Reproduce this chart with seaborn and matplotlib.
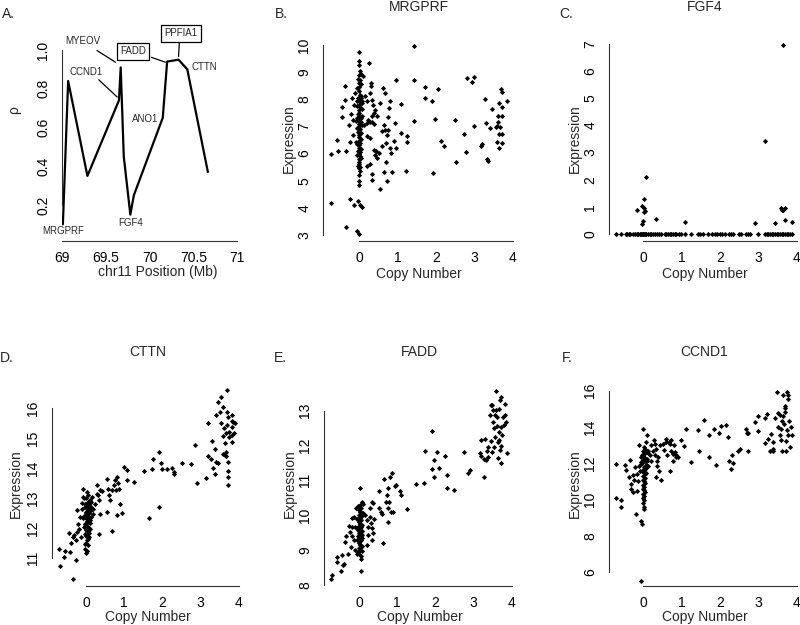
import matplotlib
matplotlib.use("Agg")
import matplotlib.pyplot as plt
import seaborn as sns
import pandas as pd

# ==========================
# Data
# ==========================

# Panel A: correlation (rho) along chr11 amplicon
pos_mb = [69.01, 69.07, 69.29, 69.65, 69.67, 69.705, 69.78, 69.82,
          70.15, 70.20, 70.33, 70.43, 70.665]
rho = [0.10, 0.84, 0.35, 0.74, 0.91, 0.45, 0.15, 0.25,
       0.65, 0.94, 0.95, 0.90, 0.37]
gene_names = ["MRGPRF", "CCND1", "MYEOV", "FGF4", "ANO1", "FADD", "PPFIA1", "CTTN"]

# Panel B: MRGPRF
cn_b = [
    -0.72, -0.72, -0.58, -0.55, -0.43, -0.43, -0.36, -0.36, -0.34, -0.34,
    -0.26, -0.23, -0.23, -0.21, -0.19, -0.16, -0.15, -0.12, -0.12, -0.10,
    -0.09, -0.06, -0.03, 0.00, 0.03, 0.09,
    0.00, 0.01, -0.01, 0.02, 0.00, -0.02, 0.03, 0.01, 0.00, -0.01,
    0.02, 0.04, -0.02, 0.01, 0.00, 0.03, -0.01, 0.02, 0.00, 0.01,
    -0.03, 0.02, 0.00, 0.04, 0.01, -0.01, 0.03, 0.00, 0.02, -0.02,
    0.01, 0.00, 0.03, -0.01, 0.02, 0.00, 0.01, -0.02, 0.03, 0.00,
    0.02, -0.01, 0.01, 0.00, 0.02, -0.01, 0.03, 0.00, 0.01, 0.00,
    0.06, -0.05, 0.08, -0.04, 0.07, -0.06, 0.05, 0.09, -0.05, 0.06,
    -0.04, 0.05, 0.06, -0.03, 0.05, -0.04, 0.07, -0.07, 0.05, -0.05,
    0.05, 0.11, 0.27, 0.30, 0.30, 0.28, 0.16, 0.09, 0.20, 0.33,
    0.37, 0.41, 0.39, 0.33, 0.46, 0.24, 0.28, 0.20, 0.35, 0.39,
    0.14, 0.20, 0.28, 0.39, 0.44, 0.47, 0.53, 0.41, 0.28, 0.20,
    0.33, 0.35, 0.54, 0.63, 0.67, 0.54, 0.65, 0.61, 0.67, 0.76,
    0.72, 0.59, 0.70, 0.80, 0.78, 0.76, 0.82, 0.80, 0.93, 0.91,
    0.97, 1.10, 1.09, 0.97, 0.70, 0.66, 0.72, 0.87, 1.25, 1.26,
    1.23, 1.43, 1.43, 1.42, 1.71, 1.72, 1.89, 1.97, 1.92, 2.05,
    2.14, 2.20, 2.50, 2.53, 2.74, 2.79, 2.82, 2.93, 3.00, 2.98,
    3.17, 3.20, 3.28, 3.30, 3.33, 3.36, 3.41, 3.47, 3.56, 3.58,
    3.62, 3.62, 3.60, 3.65, 3.65, 3.65, 3.69, 3.71, 3.72, 3.72,
    3.67, 3.71, 3.71, 3.84,
]
ex_b = [
    5.98, 4.18, 6.48, 6.08, 7.71, 7.33, 8.47, 7.98, 6.09, 3.28,
    7.06, 6.41, 4.33, 7.45, 8.04, 6.69, 7.24, 7.79, 4.12, 8.22,
    6.41, 3.14, 4.24, 3.05, 4.12, 4.04,
    9.75, 9.40, 9.25, 9.05, 8.90, 8.75, 8.70, 8.60, 8.45, 8.30,
    8.15, 8.10, 8.05, 8.00, 7.95, 7.90, 7.80, 7.70, 7.60, 7.50,
    7.45, 7.40, 7.35, 7.30, 7.20, 7.10, 7.05, 7.00, 6.90, 6.80,
    6.70, 6.60, 6.50, 6.45, 6.40, 6.30, 6.20, 6.10, 6.05, 6.00,
    5.90, 5.80, 5.70, 5.60, 5.50, 5.45, 5.35, 5.20, 5.00, 4.85,
    8.05, 7.95, 7.85, 7.75, 7.40, 7.30, 7.15, 7.05, 6.95, 6.55,
    6.35, 6.15, 5.85, 5.55, 8.55, 8.40, 7.65, 7.20, 6.75, 5.95,
    8.92, 8.87, 9.33, 8.59, 8.47, 8.22, 8.10, 7.92, 7.92, 7.98,
    7.79, 7.61, 7.49, 7.37, 7.37, 7.24, 7.16, 7.12, 7.16, 7.08,
    7.06, 6.63, 6.57, 6.14, 6.08, 5.83, 6.02, 5.96, 5.61, 5.55,
    5.24, 5.04, 4.69, 8.41, 8.22, 7.86, 7.06, 6.84, 6.87, 6.87,
    6.69, 6.27, 6.38, 6.20, 7.67, 7.33, 6.02, 7.92, 7.12, 6.45,
    6.20, 6.75, 7.83, 8.71, 5.67, 5.31, 4.98, 5.31, 6.63, 6.42,
    5.37, 9.96, 8.71, 7.21, 8.44, 8.04, 7.94, 7.28, 5.28, 8.38,
    6.45, 6.29, 7.22, 5.67, 6.73, 6.05, 8.78, 8.63, 8.80, 7.02,
    6.29, 6.35, 8.01, 7.12, 5.81, 5.74, 6.94, 7.65, 6.99, 6.42,
    7.16, 7.37, 7.02, 7.85, 6.72, 6.20, 8.37, 8.26, 7.70, 7.39,
    6.96, 6.72, 6.38, 7.92,
]

# Panel C: FGF4
cn_c = [
    -0.70, -0.57, -0.45, -0.42, -0.37, -0.33, -0.26, -0.22, -0.16, -0.13,
    -0.09, -0.06, -0.03, 0.00, 0.03, 0.05, 0.09, 0.13, 0.17, 0.22,
    0.26, 0.30, 0.37, 0.42, 0.48, 0.57, 0.61, 0.65, 0.70, 0.74,
    0.78, 0.83, 0.87, 0.93, 1.00, 1.09, 1.24, 1.42, 1.48, 1.57,
    1.70, 1.80, 1.87, 1.93, 2.00, 2.06, 2.13, 2.23, 2.29, 2.33,
    2.50, 2.55, 2.68, 2.74, 2.78, 2.98, 3.17, 3.22, 3.26, 3.30,
    3.35, 3.39, 3.43, 3.48, 3.52, 3.57, 3.61, 3.65, 3.70, 3.74,
    3.78, 3.83, 3.87,
    -0.16, -0.02, -0.02, 0.00, 0.02, 0.02, 0.04, 0.02, 0.07, 0.33,
    1.09, 2.91, 3.17, 3.43, 3.58, 3.63, 3.63, 3.70, 3.68, 3.87,
    3.61,
]
ex_c = [
    0.00, 0.00, 0.00, 0.00, 0.00, 0.00, 0.00, 0.00, 0.00, 0.00,
    0.00, 0.00, 0.00, 0.00, 0.00, 0.00, 0.00, 0.00, 0.00, 0.00,
    0.00, 0.00, 0.00, 0.00, 0.00, 0.00, 0.00, 0.00, 0.00, 0.00,
    0.00, 0.00, 0.00, 0.00, 0.00, 0.00, 0.00, 0.00, 0.00, 0.00,
    0.00, 0.00, 0.00, 0.00, 0.00, 0.00, 0.00, 0.00, 0.00, 0.00,
    0.00, 0.00, 0.00, 0.00, 0.00, 0.00, 0.00, 0.00, 0.00, 0.00,
    0.00, 0.00, 0.00, 0.00, 0.00, 0.00, 0.00, 0.00, 0.00, 0.00,
    0.00, 0.00, 0.00,
    0.88, 1.02, 0.35, 0.49, 1.29, 0.94, 0.86, 0.80, 2.11, 0.55,
    0.44, 0.41, 3.43, 0.41, 0.94, 0.88, 6.96, 0.96, 0.52, 0.44,
    0.90,
]

# Panel D: CTTN
cn_d = [
    -0.70, -0.68, -0.56, -0.57, -0.42, -0.35, -0.40, -0.35, -0.44, -0.27,
    -0.26, -0.31, -0.23, -0.24, -0.20, -0.17, -0.14, -0.16, -0.11, -0.11,
    -0.07, -0.09, -0.04, -0.07, -0.05, -0.03, -0.03, -0.02, -0.01,
    0.02, 0.05, 0.00, 0.08, 0.03, -0.02, 0.06, 0.01, 0.09, 0.04,
    -0.01, 0.07, 0.02, 0.05, 0.00, 0.08, 0.03, 0.06, -0.02, 0.01,
    0.04, 0.07, 0.00, 0.05, 0.02, 0.08, 0.03, 0.01, 0.06, 0.02,
    0.10, -0.03, 0.11, -0.04, 0.10, -0.03, 0.11, 0.09, 0.04, 0.12,
    0.00, 0.13, 0.10, 0.12, -0.01,
    0.08, 0.15, 0.13, 0.19, 0.17, 0.23, 0.28, 0.28, 0.32, 0.34,
    0.36, 0.41, 0.36, 0.35, 0.54, 0.55, 0.58, 0.61, 0.62, 0.67,
    0.68, 0.73, 0.75, 0.78, 0.80, 0.84, 0.86, 0.88, 0.82, 0.93,
    0.99, 1.08, 1.08, 1.26, 1.52, 1.66, 1.72, 1.75, 1.90, 1.91,
    1.97, 1.98, 2.11, 2.24, 2.29, 2.29, 2.50, 2.75, 2.85, 2.90,
    3.13, 3.19, 3.20, 3.26, 3.30, 3.33, 3.38, 3.39, 3.38, 3.44,
    3.41, 3.46, 3.51, 3.54, 3.57, 3.52, 3.58, 3.61, 3.63, 3.65,
    3.65, 3.67, 3.69, 3.69, 3.71, 3.69, 3.74, 3.74, 3.71, 3.71,
    3.71, 3.71, 3.81, 3.85, 3.81, 3.88, 3.83, 3.90, 3.81, 3.63,
    3.57, 3.82,
]
ex_d = [
    11.31, 10.73, 11.23, 11.03, 11.20, 10.29, 11.51, 11.70, 11.85, 10.94,
    11.61, 11.78, 11.87, 12.60, 12.15, 11.98, 11.70, 12.37, 12.65, 12.84,
    13.32, 13.04, 12.99, 12.32, 12.04, 11.81, 11.48, 11.31, 11.18,
    13.20, 13.10, 13.00, 12.90, 12.85, 12.80, 12.75, 12.70, 12.65, 12.60,
    12.55, 12.50, 12.45, 12.40, 12.35, 12.30, 12.25, 12.20, 12.15, 12.10,
    12.05, 12.00, 11.95, 11.90, 11.80, 11.70, 11.60, 11.50, 11.45, 11.25,
    12.95, 12.72, 12.58, 12.42, 12.28, 12.12, 11.98, 11.85, 11.65, 12.68,
    12.52, 12.38, 12.18, 12.88, 11.75,
    12.82, 13.04, 12.71, 12.65, 12.48, 12.80, 13.15, 13.43, 13.10, 12.93,
    13.27, 13.24, 12.48, 11.79, 13.63, 12.54, 13.32, 13.10, 12.93, 11.89,
    13.27, 13.43, 13.60, 13.27, 13.69, 13.49, 13.32, 12.80, 12.43, 12.52,
    14.05, 13.94, 13.62, 13.53, 13.91, 12.32, 13.96, 14.31, 14.53, 12.71,
    14.18, 13.99, 13.99, 14.02, 13.88, 13.80, 14.19, 14.13, 14.77, 13.52,
    13.66, 15.52, 14.42, 14.32, 14.92, 14.02, 14.64, 14.22, 13.82, 14.18,
    15.78, 16.22, 15.89, 16.37, 16.06, 15.50, 15.06, 15.33, 14.83, 15.16,
    14.55, 14.40, 16.61, 15.89, 15.72, 15.44, 15.22, 15.03, 14.21, 13.91,
    13.71, 13.43, 15.59, 15.55, 15.11, 15.16, 15.39, 15.50, 14.89, 14.44,
    14.49, 15.78,
]

# Panel E: FADD
cn_e = [
    -0.73, -0.70, -0.58, -0.57, -0.47, -0.44, -0.41, -0.38, -0.37, -0.34,
    -0.28, -0.25, -0.23, -0.22, -0.19, -0.17, -0.17, -0.13, -0.12, -0.10,
    -0.09, -0.10, -0.06,
    0.02, 0.05, -0.01, 0.03, 0.07, 0.00, 0.04, -0.02, 0.06, 0.01,
    0.03, -0.01, 0.05, 0.02, 0.07, 0.00, 0.04, -0.02, 0.01, 0.06,
    0.03, -0.01, 0.02, 0.05, 0.00, 0.03, -0.02, 0.01, 0.04,
    -0.03, 0.08, -0.04, 0.08, -0.03, 0.09, -0.04, 0.08, 0.07, 0.05,
    -0.05, 0.09,
    0.03, 0.04, 0.07, 0.10, 0.11, 0.16, 0.20, 0.23, 0.24, 0.21,
    0.29, 0.29, 0.33, 0.37, 0.31, 0.34, 0.37, 0.40, 0.33, 0.53,
    0.53, 0.57, 0.61, 0.63, 0.65, 0.70, 0.72, 0.75, 0.75, 0.78,
    0.77, 0.81, 0.85, 0.87, 0.90, 0.94, 0.98, 1.07, 1.09, 1.26,
    1.50, 1.70, 1.90, 1.73, 1.90, 1.97, 2.03, 2.10, 1.97, 2.25,
    2.29, 2.30, 2.49, 2.74, 2.85, 2.91, 3.18, 3.16, 3.20, 3.26,
    3.27, 3.30, 3.31, 3.35, 3.37, 3.37, 3.42, 3.44, 3.48, 3.44,
    3.48, 3.50, 3.50, 3.52, 3.52, 3.55, 3.56, 3.59, 3.59, 3.61,
    3.62, 3.63, 3.63, 3.65, 3.66, 3.66, 3.70, 3.72, 3.72, 3.70,
    3.72, 3.74, 3.77, 3.78, 3.81, 3.83, 3.85, 3.87, 3.72,
]
ex_e = [
    8.16, 8.28, 8.81, 8.67, 8.39, 8.86, 8.57, 8.60, 9.24, 9.39,
    8.90, 9.69, 9.53, 9.10, 9.91, 9.67, 9.39, 9.29, 9.96, 9.67,
    10.20, 9.00, 8.90,
    10.30, 10.20, 10.15, 10.10, 10.05, 10.00, 9.95, 9.90, 9.85, 9.80,
    9.75, 9.70, 9.65, 9.60, 9.55, 9.50, 9.45, 9.40, 9.35, 9.30,
    9.25, 9.20, 9.15, 9.10, 9.05, 9.00, 8.95, 8.90, 8.75,
    10.25, 10.02, 9.88, 9.72, 9.58, 9.42, 9.28, 9.12, 8.98, 8.82,
    9.62, 9.35,
    10.77, 8.40, 10.37, 10.32, 10.07, 10.00, 9.86, 9.67, 9.43, 9.15,
    9.96, 10.20, 10.39, 10.34, 9.77, 9.63, 9.48, 9.88, 9.29, 10.70,
    10.20, 10.10, 10.04, 9.21, 11.03, 10.39, 10.58, 10.77, 10.20, 10.37,
    9.80, 11.11, 10.08, 11.22, 10.10, 10.84, 10.87, 10.70, 10.58, 10.18,
    10.89, 10.93, 12.42, 11.85, 11.33, 11.59, 11.80, 11.35, 11.11, 11.70,
    11.15, 10.79, 10.72, 11.80, 11.20, 11.30, 12.16, 11.78, 11.71, 11.09,
    11.61, 12.18, 11.57, 11.84, 11.67, 11.97, 12.86, 13.16, 13.16, 12.13,
    11.82, 13.02, 12.68, 12.49, 11.97, 12.25, 12.88, 13.56, 13.02, 12.81,
    12.56, 12.11, 11.63, 12.40, 12.16, 13.04, 13.29, 13.38, 12.54, 11.87,
    11.49, 12.30, 12.83, 12.59, 13.19, 12.88, 12.68, 11.78, 11.99,
]

# Panel F: CCND1
cn_f = [
    -0.71, -0.70, -0.58, -0.57, -0.46, -0.43, -0.37, -0.35, -0.32, -0.30,
    -0.26, -0.26, -0.23, -0.22, -0.17, -0.16, -0.15, -0.13, -0.11, -0.10,
    -0.09, -0.06, -0.06, -0.03, 0.00,
    0.02, 0.05, -0.01, 0.07, 0.03, 0.00, 0.06, 0.01, 0.04, -0.02,
    0.08, 0.02, 0.05, 0.00, 0.03, 0.06, -0.01, 0.04, 0.01, 0.02,
    0.05, 0.00, 0.03, -0.01, 0.02, 0.04, 0.01, 0.03, 0.00, 0.02,
    0.01, 0.03, 0.02,
    0.09, -0.04, 0.10, -0.05, 0.09, -0.03, 0.12, 0.11, 0.12, 0.08,
    -0.06, -0.02,
    0.09, 0.10, 0.13, 0.17, 0.20, 0.22, 0.26, 0.29, 0.30, 0.32,
    0.35, 0.37, 0.37, 0.39, 0.35, 0.41, 0.46, 0.43, 0.52, 0.55,
    0.59, 0.61, 0.63, 0.67, 0.70, 0.70, 0.72, 0.74, 0.77, 0.78,
    0.80, 0.83, 0.85, 0.87, 0.91, 1.00, 1.07, 1.11, 1.26, 1.43,
    1.46, 1.59, 1.72, 1.72, 1.84, 1.91, 1.98, 2.04, 2.15, 2.20,
    2.24, 2.29, 2.32, 2.35, 2.48, 2.52, 2.68, 2.71, 2.74, 2.74,
    2.91, 2.98, 3.00, 3.16, 3.16, 3.22, 3.26, 3.30, 3.37, 3.33,
    3.37, 3.39, 3.43, 3.48, 3.50, 3.52, 3.55, 3.57, 3.59, 3.59,
    3.61, 3.61, 3.63, 3.65, 3.67, 3.68, 3.70, 3.70, 3.71, 3.72,
    3.74, 3.74, 3.76, 3.78, 3.80, 3.83, 3.85, 3.87, 3.77,
]
ex_f = [
    11.96, 10.06, 9.96, 9.56, 11.93, 11.63, 11.22, 12.20, 10.85, 10.57,
    10.44, 11.37, 11.07, 11.81, 9.22, 10.48, 11.41, 11.04, 11.85, 12.98,
    11.56, 5.52, 8.81, 8.67, 13.91,
    12.90, 12.80, 12.70, 12.60, 12.50, 12.40, 12.30, 12.20, 12.10, 12.00,
    11.90, 11.80, 11.70, 11.60, 11.50, 11.40, 11.30, 11.20, 11.10, 11.00,
    10.90, 10.80, 10.70, 10.60, 10.50, 10.40, 10.30, 10.20, 10.10, 10.00,
    9.80, 9.60, 9.50,
    12.65, 12.35, 12.15, 11.95, 11.75, 11.55, 12.55, 12.25, 11.85, 11.45,
    12.05, 12.45,
    13.17, 13.57, 12.70, 12.43, 12.15, 12.98, 12.67, 13.26, 13.07, 12.43,
    12.80, 11.87, 12.15, 12.33, 11.22, 11.59, 11.07, 12.98, 13.07, 12.74,
    13.31, 13.17, 12.43, 13.17, 11.56, 13.07, 12.70, 13.26, 12.52, 12.15,
    12.98, 12.61, 12.33, 12.43, 12.37, 13.26, 12.94, 13.91, 12.09, 13.81,
    12.65, 14.37, 13.54, 12.37, 13.91, 11.93, 13.67, 14.06, 14.13, 13.44,
    12.11, 11.69, 12.46, 12.00, 12.70, 12.80, 13.91, 13.67, 13.67, 12.70,
    14.28, 13.78, 14.61, 13.13, 14.52, 14.74, 13.35, 12.65, 12.65, 13.63,
    13.17, 12.80, 14.50, 15.91, 14.78, 14.00, 14.65, 13.57, 13.91, 13.26,
    12.70, 14.33, 15.76, 14.61, 14.19, 15.02, 15.15, 14.83, 13.22, 12.70,
    15.94, 13.85, 13.54, 15.57, 14.33, 12.89, 14.00, 13.54, 15.78,
]

# ==========================
# Style
# ==========================

sns.set_style("white")
plt.rcParams["font.family"] = ["Liberation Sans", "DejaVu Sans"]

AXIS_COLOR = "#333333"
FIG_W, FIG_H = 800, 625

fig = plt.figure(figsize=(8, 6.25), dpi=100)


def add_panel(left, top, width=191, height=204):
    return fig.add_axes([
        left / FIG_W,
        1 - (top + height) / FIG_H,
        width / FIG_W,
        height / FIG_H
    ])


def r_style(ax, xticks, yticks, xlabels, ylabels, xlabel, ylabel,
            ylab_x, xlab_y, ylab_y=0.5):
    # R-like detached look: open frame, axis lines only across tick range
    ax.spines["top"].set_visible(False)
    ax.spines["right"].set_visible(False)
    for side in ["left", "bottom"]:
        ax.spines[side].set_color(AXIS_COLOR)
        ax.spines[side].set_linewidth(0.8)
    ax.spines["left"].set_bounds(yticks[0], yticks[-1])
    ax.spines["bottom"].set_bounds(xticks[0], xticks[-1])

    ax.set_xticks(xticks)
    ax.set_xticklabels(xlabels)
    ax.set_yticks(yticks)
    ax.set_yticklabels(ylabels)

    ax.tick_params(axis="both", length=4.3, width=0.8, color=AXIS_COLOR,
                   labelsize=10, labelcolor="black")
    ax.tick_params(axis="x", pad=3)
    ax.tick_params(axis="y", pad=4)
    plt.setp(ax.get_yticklabels(), rotation=90, va="center", ha="right")

    ax.set_xlabel(xlabel, fontsize=10)
    ax.set_ylabel(ylabel, fontsize=10)
    ax.xaxis.set_label_coords(0.5, xlab_y)
    ax.yaxis.set_label_coords(ylab_x, ylab_y)


# ==========================
# Panel A
# ==========================

ax_a = add_panel(62, 37)

sns.lineplot(
    x=pos_mb,
    y=rho,
    sort=False,
    estimator=None,
    color="black",
    linewidth=1.6,
    ax=ax_a
)

ax_a.set_xlim(69, 71.18)
ax_a.set_ylim(0.014, 1.067)

r_style(
    ax_a,
    [69, 69.5, 70, 70.5, 71],
    [0.2, 0.4, 0.6, 0.8, 1.0],
    ["69", "69.5", "70", "70.5", "71"],
    ["0.2", "0.4", "0.6", "0.8", "1.0"],
    "chr11 Position (Mb)",
    "\u03c1",
    -0.215,
    -0.118,
    ylab_y=0.64
)

# gene labels: (text x, text y, connector or None, boxed)
label_layout = {
    "MRGPRF": (69.01, 0.068, None, False),
    "CCND1": (69.28, 0.885, (69.42, 0.846, 69.63, 0.757), False),
    "MYEOV": (69.24, 1.048, (69.40, 0.997, 69.61, 0.937), False),
    "FGF4": (69.78, 0.108, None, False),
    "ANO1": (69.95, 0.644, None, False),
    "FADD": (69.81, 0.993, (70.02, 0.962, 70.18, 0.937), True),
    "PPFIA1": (70.36, 1.087, (70.34, 1.045, 70.33, 0.966), True),
    "CTTN": (70.62, 0.913, None, False),
}

for gene in gene_names:
    tx, ty, seg, boxed = label_layout[gene]
    box = None
    if boxed:
        box = dict(boxstyle="square,pad=0.35", fc="white",
                   ec="black", lw=0.9)
    ax_a.text(tx, ty, gene, fontsize=7, ha="center", va="center",
              bbox=box, clip_on=False, zorder=5)
    if seg is not None:
        ax_a.plot([seg[0], seg[2]], [seg[1], seg[3]], color="black",
                  lw=0.9, clip_on=False)

# ==========================
# Scatter panels
# ==========================

panels = [
    # letter, gene, cn, expr, left, top, xlim, ylim, yticks, ylab_x, xlab_y
    ("B.", "MRGPRF", cn_b, ex_b, 323, 37, (-0.935, 4.03), (2.78, 10.29),
     [3, 4, 5, 6, 7, 8, 9, 10], -0.141, -0.127),
    ("C.", "FGF4", cn_c, ex_c, 609, 37, (-0.883, 4.08), (-0.26, 7.26),
     [0, 1, 2, 3, 4, 5, 6, 7], -0.141, -0.127),
    ("D.", "CTTN", cn_d, ex_d, 52, 382, (-0.889, 4.105), (10.065, 16.88),
     [11, 12, 13, 14, 15, 16], -0.152, -0.118),
    ("E.", "FADD", cn_e, ex_e, 324, 382, (-0.915, 4.08), (7.97, 13.82),
     [8, 9, 10, 11, 12, 13], -0.141, -0.118),
    ("F.", "CCND1", cn_f, ex_f, 609, 382, (-0.883, 4.08), (5.23, 16.48),
     [6, 8, 10, 12, 14, 16], -0.141, -0.118),
]

for letter, gene, cn, expr, left, top, xlim, ylim, yticks, ylx, xly in panels:

    ax = add_panel(left, top)

    df = pd.DataFrame({"Copy Number": cn, "Expression": expr})

    sns.scatterplot(
        data=df,
        x="Copy Number",
        y="Expression",
        marker="D",
        s=7,
        color="black",
        linewidth=0,
        ax=ax
    )

    ax.set_xlim(*xlim)
    ax.set_ylim(*ylim)

    r_style(
        ax,
        [0, 1, 2, 3, 4],
        yticks,
        ["0", "1", "2", "3", "4"],
        [str(t) for t in yticks],
        "Copy Number",
        "Expression",
        ylx,
        xly
    )

    ax.set_title(gene, fontsize=10, pad=19)

# ==========================
# Panel letters
# ==========================

letters = [("A.", 2, 7), ("B.", 275, 7), ("C.", 559, 7),
           ("D.", 0, 351), ("E.", 274, 351), ("F.", 562, 351)]

for txt, px, py in letters:
    fig.text(px / FIG_W, 1 - py / FIG_H, txt, fontsize=10,
             ha="left", va="top")

plt.savefig("out.png", dpi=100)
plt.close()
